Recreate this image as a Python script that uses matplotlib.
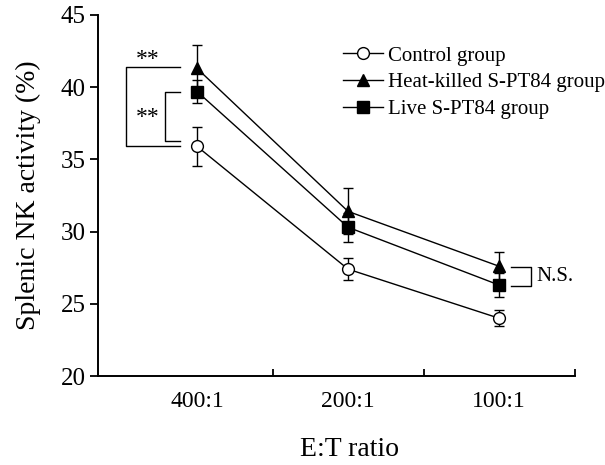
import numpy as np
import matplotlib.pyplot as plt
from matplotlib.lines import Line2D

plt.rcParams['font.family'] = ['Liberation Serif', 'DejaVu Serif']

# Datos
ratios = ['400:1', '200:1', '100:1']
control = [35.9, 27.4, 24.0]
control_err = [1.35, 0.75, 0.55]
heat_killed = [41.3, 31.4, 27.6]
heat_killed_err = [1.6, 1.6, 1.0]
live = [39.7, 30.3, 26.3]
live_err = [0.8, 1.0, 0.8]

x = np.arange(len(ratios))

fig = plt.figure(figsize=(6.05, 4.65), dpi=100)
ax = fig.add_axes([98 / 605, 1 - 376 / 465, 477 / 605, 361 / 465])

estilo = dict(color='black', lw=1.0, capsize=3.5, elinewidth=1.0, capthick=1.0)
ax.errorbar(x, control, yerr=control_err, marker='o', ms=8.5, mfc='white', mec='black',
            zorder=3, **estilo)
ax.errorbar(x, heat_killed, yerr=heat_killed_err, marker='^', ms=9, mfc='black', mec='black',
            zorder=3, **estilo)
ax.errorbar(x, live, yerr=live_err, marker='s', ms=8.5, mfc='black', mec='black',
            zorder=3, **estilo)

ax.set_xlim(-0.656, 2.503)
ax.set_ylim(20, 45)
ax.set_yticks([20, 25, 30, 35, 40, 45])
# marcas en los límites de categoría, etiquetas en el centro
ax.set_xticks([0.5, 1.5, 2.5])
ax.set_xticklabels([])
ax.set_xticks(x, minor=True)
ax.set_xticklabels(ratios, minor=True)
ax.tick_params(axis='x', which='major', direction='in', length=5, width=1.3)
ax.tick_params(axis='x', which='minor', length=0, pad=11, labelsize=17)
ax.tick_params(axis='y', direction='out', length=6, width=1.3, labelsize=18, pad=3)
for s in ['top', 'right']:
    ax.spines[s].set_visible(False)
for s in ['left', 'bottom']:
    ax.spines[s].set_linewidth(1.4)

ax.set_ylabel('Splenic NK activity (%)', fontsize=20, labelpad=14)
ax.set_xlabel('E:T ratio', fontsize=20, labelpad=18)
ax.xaxis.label.set_x((349 - 98) / 477)

# Corchetes de significancia
ax.plot([-0.113, -0.47, -0.47, -0.113], [41.4, 41.4, 35.9, 35.9], color='black', lw=1, clip_on=False)
ax.plot([-0.113, -0.212, -0.212, -0.113], [39.7, 39.7, 36.25, 36.25], color='black', lw=1, clip_on=False)
ax.text(-0.33, 41.9, '**', ha='center', va='center', fontsize=17)
ax.text(-0.33, 37.9, '**', ha='center', va='center', fontsize=17)
ax.plot([2.08, 2.21, 2.21, 2.08], [27.57, 27.57, 26.25, 26.25], color='black', lw=1)
ax.text(2.25, 26.9, 'N.S.', ha='left', va='center', fontsize=15)

handles = [
    Line2D([], [], color='black', lw=1, marker='o', ms=8.5, mfc='white', mec='black'),
    Line2D([], [], color='black', lw=1, marker='^', ms=9, mfc='black', mec='black'),
    Line2D([], [], color='black', lw=1, marker='s', ms=8.5, mfc='black', mec='black'),
]
labels = ['Control group', 'Heat-killed S-PT84 group', 'Live S-PT84 group']
fig.legend(handles, labels, loc='upper left', bbox_to_anchor=(343 / 605, 1 - 46 / 465),
           frameon=False, fontsize=15, handlelength=1.9, handletextpad=0.25,
           labelspacing=0.34, borderpad=0, borderaxespad=0)

fig.savefig('out.png', dpi=100)
